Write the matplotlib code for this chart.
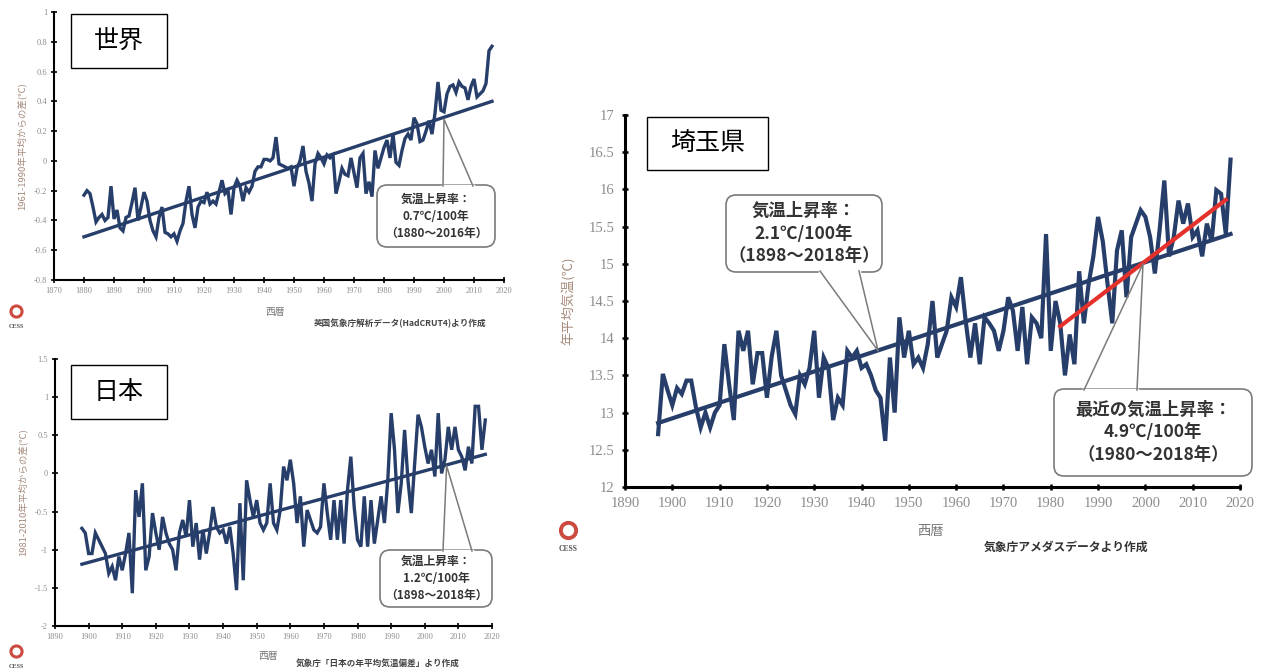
import matplotlib
matplotlib.use('Agg')
import matplotlib.pyplot as plt
from matplotlib.patches import FancyBboxPatch, Polygon, Rectangle
from matplotlib.lines import Line2D

plt.rcParams['font.family'] = ['Noto Sans CJK JP', 'DejaVu Sans']

W, H = 1263, 672

# ---------------- data ----------------
world_years = list(range(1880, 2017))
world_anom = [
    -0.23, -0.20, -0.22, -0.31, -0.41, -0.38, -0.36, -0.40, -0.38, -0.17,
    -0.39, -0.33, -0.45, -0.47, -0.38, -0.37, -0.28, -0.18, -0.40, -0.31,
    -0.21, -0.27, -0.40, -0.47, -0.51, -0.38, -0.31, -0.48, -0.49, -0.51,
    -0.49, -0.54, -0.47, -0.42, -0.27, -0.17, -0.36, -0.45, -0.31, -0.27,
    -0.28, -0.21, -0.29, -0.27, -0.29, -0.21, -0.13, -0.22, -0.20, -0.36,
    -0.18, -0.13, -0.17, -0.27, -0.18, -0.21, -0.17, -0.07, -0.04, -0.04,
    0.01, 0.01, 0.00, 0.02, 0.16, -0.02, -0.03, -0.04, -0.05, -0.04,
    -0.17, -0.05, 0.00, 0.10, -0.07, -0.15, -0.27, -0.02, 0.05, 0.02,
    -0.02, 0.04, 0.02, 0.04, -0.22, -0.14, -0.05, -0.09, -0.10, 0.02,
    -0.08, -0.18, 0.02, 0.05, -0.22, -0.14, -0.24, 0.07, -0.05, 0.02,
    0.09, 0.14, 0.02, 0.18, -0.01, -0.03, 0.07, 0.15, 0.18, 0.14,
    0.29, 0.25, 0.13, 0.14, 0.20, 0.27, 0.18, 0.32, 0.53, 0.34,
    0.33, 0.45, 0.50, 0.51, 0.46, 0.53, 0.50, 0.49, 0.41, 0.50,
    0.55, 0.43, 0.45, 0.47, 0.52, 0.74, 0.77]
world_trend_years = [1880, 2016]
world_trend = [-0.51, 0.40]
world_xticks = list(range(1870, 2021, 10))
world_yticks = [-0.8, -0.6, -0.4, -0.2, 0, 0.2, 0.4, 0.6, 0.8, 1]

japan_years = list(range(1898, 2019))
japan_anom = [
    -0.72, -0.78, -1.05, -1.05, -0.78, -0.87, -0.96, -1.05, -1.31, -1.22,
    -1.40, -1.09, -1.27, -1.05, -0.78, -1.57, -0.22, -0.57, -0.13, -1.27,
    -1.09, -0.52, -0.78, -1.00, -0.57, -0.78, -0.92, -1.00, -1.27, -0.78,
    -0.61, -0.83, -0.35, -0.96, -0.65, -1.13, -0.74, -1.05, -0.78, -0.44,
    -0.70, -0.78, -0.74, -0.92, -0.70, -1.05, -1.53, -0.39, -1.40, -0.09,
    -0.35, -0.57, -0.35, -0.65, -0.74, -0.65, -0.13, -0.65, -0.74, -0.48,
    0.09, -0.09, 0.18, -0.13, -0.65, -0.30, -0.96, -0.48, -0.61, -0.74,
    -0.78, -0.70, -0.13, -0.52, -0.87, -0.35, -0.87, -0.35, -0.92, -0.22,
    0.22, -0.44, -0.87, -0.96, -0.30, -0.96, -0.35, -0.92, -0.61, -0.30,
    -0.65, -0.09, 0.79, 0.31, -0.52, -0.13, 0.57, -0.09, -0.52, 0.13,
    0.77, 0.61, 0.35, 0.13, 0.31, -0.04, 0.79, 0.00, 0.18, 0.61,
    0.31, 0.61, 0.31, 0.22, 0.04, 0.35, 0.13, 0.88, 0.88, 0.31,
    0.70]
japan_trend_years = [1898, 2018]
japan_trend = [-1.19, 0.25]
japan_xticks = list(range(1890, 2021, 10))
japan_yticks = [-2, -1.5, -1, -0.5, 0, 0.5, 1, 1.5]

saitama_years = list(range(1897, 2019))
saitama_temp = [
    12.71, 13.52, 13.30, 13.10, 13.33, 13.25, 13.43, 13.43, 13.07, 12.80,
    13.00, 12.80, 13.00, 13.10, 13.92, 13.38, 12.90, 14.10, 13.83, 14.10,
    13.38, 13.80, 13.80, 13.20, 13.75, 14.10, 13.50, 13.30, 13.10, 12.98,
    13.50, 13.38, 13.60, 14.10, 13.20, 13.74, 13.60, 12.90, 13.20, 13.10,
    13.83, 13.74, 13.83, 13.60, 13.65, 13.50, 13.30, 13.20, 12.62, 13.74,
    13.00, 14.28, 13.74, 14.10, 13.65, 13.74, 13.60, 13.92, 14.50, 13.74,
    13.92, 14.10, 14.55, 14.42, 14.82, 14.24, 13.74, 14.20, 13.65, 14.28,
    14.20, 14.10, 13.83, 14.10, 14.55, 14.37, 13.83, 14.42, 13.65, 14.28,
    14.20, 14.00, 15.40, 13.83, 14.50, 14.20, 13.50, 14.05, 13.65, 14.90,
    14.20, 14.73, 15.10, 15.63, 15.30, 14.73, 14.20, 15.18, 15.45, 14.55,
    15.36, 15.54, 15.72, 15.63, 15.36, 14.87, 15.45, 16.12, 15.10, 15.36,
    15.85, 15.54, 15.81, 15.36, 15.45, 15.10, 15.54, 15.30, 15.99, 15.94,
    15.40, 16.40]
saitama_trend_years = [1897, 2018]
saitama_trend = [12.86, 15.40]
saitama_recent_years = [1982, 2017]
saitama_recent = [14.16, 15.86]
saitama_xticks = list(range(1890, 2021, 10))
saitama_yticks = [12, 12.5, 13, 13.5, 14, 14.5, 15, 15.5, 16, 16.5, 17]

NAVY = '#263e69'
RED = '#e5312b'
TICKGRAY = '#8c8c8c'
LABELBROWN = '#a58a7c'
BOXEDGE = '#7a7a7a'


def fx(px):
    return px / W


def fy(py):
    return 1 - py / H


fig = plt.figure(figsize=(W / 100, H / 100), dpi=100)


def make_axes(l, t, r, b):
    return fig.add_axes([fx(l), fy(b), (r - l) / W, (b - t) / H])


def style_axes(ax, xticks, yticks, xlim, ylim, tsize, spine_lw):
    ax.set_xlim(*xlim)
    ax.set_ylim(*ylim)
    ax.set_xticks(xticks)
    ax.set_xticklabels([str(v) for v in xticks])
    ax.set_yticks(yticks)
    ax.set_yticklabels([f'{v:g}' for v in yticks])
    for s in ['top', 'right']:
        ax.spines[s].set_visible(False)
    for s in ['left', 'bottom']:
        ax.spines[s].set_linewidth(spine_lw)
        ax.spines[s].set_color('black')
    ax.tick_params(direction='inout', length=4, width=1.2, color='black',
                   labelcolor=TICKGRAY, labelsize=tsize, pad=3)
    for lab in ax.get_xticklabels() + ax.get_yticklabels():
        lab.set_fontfamily(['Liberation Serif', 'DejaVu Serif'])
    ax.patch.set_alpha(0)


def callout(ax, box, tip_xy, base, lines, fs, lsp=1.45):
    l, t, r, b = box
    patch = FancyBboxPatch((fx(l), fy(b)), (r - l) / W, (b - t) / H,
                           boxstyle='round,pad=0,rounding_size=0.008',
                           mutation_aspect=W / H,
                           transform=fig.transFigure, fc='white', ec=BOXEDGE,
                           lw=1.2, clip_on=False, zorder=5)
    ax.add_patch(patch)
    tip = fig.transFigure.inverted().transform(ax.transData.transform(tip_xy))
    bl, br, by = base
    p1 = (fx(bl), fy(by))
    p2 = (fx(br), fy(by))
    fill = Polygon([p1, tip, p2], closed=True, fc='white', ec='none',
                   transform=fig.transFigure, clip_on=False, zorder=2.5)
    ax.add_patch(fill)
    cover = Line2D([p1[0], p2[0]], [p1[1], p2[1]], color='white', lw=2.5,
                   transform=fig.transFigure, clip_on=False, zorder=5.5)
    ax.add_line(cover)
    edge = Line2D([p1[0], tip[0], p2[0]], [p1[1], tip[1], p2[1]],
                  color=BOXEDGE, lw=1.1, transform=fig.transFigure,
                  clip_on=False, zorder=6)
    ax.add_line(edge)
    ax.text(fx((l + r) / 2), fy((t + b) / 2), '\n'.join(lines),
            transform=fig.transFigure, ha='center', va='center',
            fontsize=fs, fontweight='bold', color='#333333',
            linespacing=lsp, zorder=7)


def title_box(l, t, r, b, label, fs=18):
    fig.patches.append(Rectangle((fx(l), fy(b)), (r - l) / W, (b - t) / H,
                                 transform=fig.transFigure, fc='white',
                                 ec='black', lw=1.0, zorder=10))
    fig.text(fx((l + r) / 2), fy((t + b) / 2), label, ha='center',
             va='center', fontsize=fs, color='black', zorder=11)


def logo(cx, cy, ty, ms, mew, tsize):
    fig.add_artist(Line2D([fx(cx)], [fy(cy)], marker='o', ms=ms,
                          mfc='none', mec='#cc4a3f', mew=mew, ls='none',
                          transform=fig.transFigure))
    fig.text(fx(cx), fy(ty), 'CESS', ha='center', va='center',
             fontsize=tsize, color='#555555',
             fontfamily=['Liberation Serif', 'DejaVu Serif'],
             fontweight='bold')


# ---------------- 世界 ----------------
ax1 = make_axes(54, 12, 504, 280)
style_axes(ax1, world_xticks, world_yticks, (1870, 2020), (-0.8, 1.0), 6, 1.5)
ax1.plot(world_years, world_anom, color=NAVY, lw=2.4, zorder=3,
         solid_joinstyle='miter')
ax1.plot(world_trend_years, world_trend, color=NAVY, lw=2.4, zorder=3)
ax1.set_ylabel('1961-1990年平均からの差(℃)', fontsize=6.8, color=LABELBROWN,
               labelpad=5)
callout(ax1, (377, 185, 495, 247), (2000, 0.28), (443, 473, 186),
        ['気温上昇率：', '0.7℃/100年', '（1880〜2016年）'], 8.5, lsp=1.4)
title_box(71, 14, 167, 68, '世界')
fig.text(fx(275), fy(312), '西暦', ha='center', va='center', fontsize=7,
         color='#777777')
fig.text(fx(400), fy(323), '英国気象庁解析データ(HadCRUT4)より作成',
         ha='center', va='center', fontsize=6.2, color='#444444',
         fontweight='bold')
logo(16, 311, 326, 8, 2.2, 4.5)

# ---------------- 日本 ----------------
ax2 = make_axes(55, 359, 492, 626)
style_axes(ax2, japan_xticks, japan_yticks, (1890, 2020), (-2.0, 1.5), 6, 1.5)
ax2.plot(japan_years, japan_anom, color=NAVY, lw=2.4, zorder=3,
         solid_joinstyle='miter')
ax2.plot(japan_trend_years, japan_trend, color=NAVY, lw=2.4, zorder=3)
ax2.set_ylabel('1981-2010年平均からの差(℃)', fontsize=6.8, color=LABELBROWN,
               labelpad=5)
callout(ax2, (380, 550, 492, 607), (2006.5, 0.10), (443, 472, 551),
        ['気温上昇率：', '1.2℃/100年', '（1898〜2018年）'], 8.5, lsp=1.4)
title_box(71, 365, 167, 419, '日本')
fig.text(fx(268), fy(656), '西暦', ha='center', va='center', fontsize=7,
         color='#777777')
fig.text(fx(378), fy(663), '気象庁「日本の年平均気温偏差」より作成',
         ha='center', va='center', fontsize=6.2, color='#444444',
         fontweight='bold')
logo(16, 651, 666, 8, 2.2, 4.5)

# ---------------- 埼玉県 ----------------
ax3 = make_axes(625, 115, 1240, 487)
style_axes(ax3, saitama_xticks, saitama_yticks, (1890, 2020), (12, 17), 10.5, 2.2)
ax3.tick_params(length=5, width=1.8, pad=5)
ax3.plot(saitama_years, saitama_temp, color=NAVY, lw=3.0, zorder=3,
         solid_joinstyle='miter')
ax3.plot(saitama_trend_years, saitama_trend, color=NAVY, lw=3.0, zorder=3)
ax3.plot(saitama_recent_years, saitama_recent, color=RED, lw=3.0, zorder=3.5)
ax3.set_ylabel('年平均気温(℃)', fontsize=9.5, color=LABELBROWN, labelpad=9)
callout(ax3, (726, 195, 882, 272), (1943.5, 13.83), (820, 859, 271),
        ['気温上昇率：', '2.1℃/100年', '（1898〜2018年）'], 12.5, lsp=1.35)
callout(ax3, (1054, 389, 1252, 476), (1999.5, 15.0), (1084, 1137, 390),
        ['最近の気温上昇率：', '4.9℃/100年', '（1980〜2018年）'], 12.5,
        lsp=1.35)
title_box(647, 117, 768, 170, '埼玉県')
fig.text(fx(930), fy(531), '西暦', ha='center', va='center', fontsize=9.5,
         color='#777777')
fig.text(fx(1066), fy(547), '気象庁アメダスデータより作成',
         ha='center', va='center', fontsize=8.5, color='#333333',
         fontweight='bold')
logo(568, 530, 549, 11, 2.8, 5.5)

fig.savefig('out.png', dpi=100, facecolor='white')
